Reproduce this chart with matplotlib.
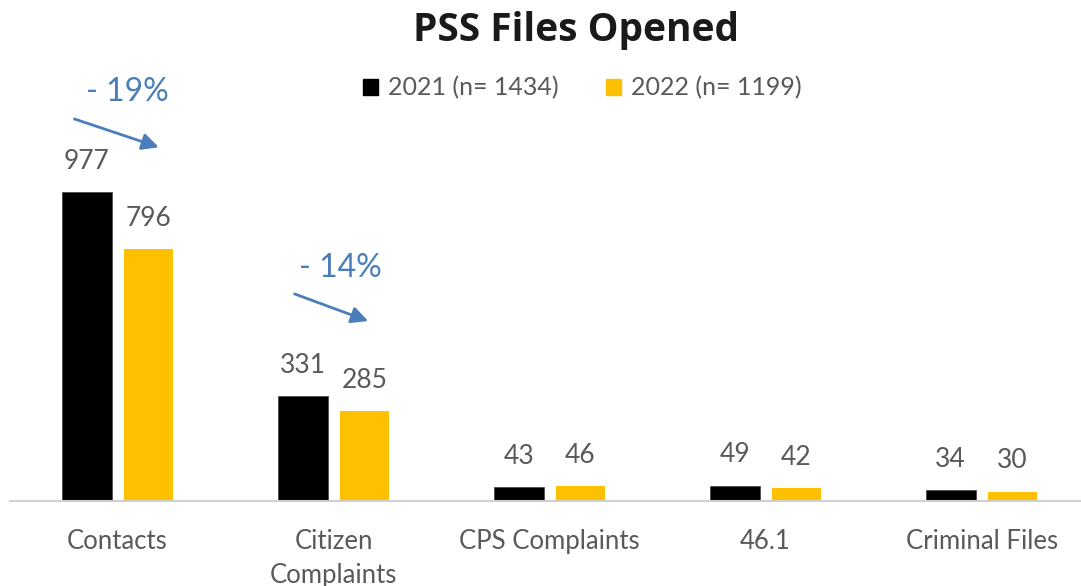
import matplotlib
matplotlib.use("Agg")
import matplotlib.pyplot as plt
import numpy as np
from matplotlib.patches import Patch

# data
categories = ["Contacts", "Citizen\nComplaints", "CPS Complaints", "46.1", "Criminal Files"]
files_2021 = [977, 331, 43, 49, 34]
files_2022 = [796, 285, 46, 42, 30]
legend_labels = ["2021 (n= 1434)", "2022 (n= 1199)"]

c2021 = "#000000"
c2022 = "#FFC000"
grey = "#595959"
blue = "#4A7EBB"

plt.rcParams['font.family'] = ['Lato', 'DejaVu Sans']

fig = plt.figure(figsize=(10.81, 5.86), dpi=100)
ax = fig.add_axes([10/1081, 85/586, 1 - 10/1081, 351/586])

x = np.arange(len(categories))
w = 0.23
off = 0.143
b1 = ax.bar(x - off, files_2021, w, color=c2021, edgecolor="#404040", linewidth=0.5)
b2 = ax.bar(x + off, files_2022, w, color=c2022)

for bars in (b1, b2):
    for r in bars:
        ax.annotate(str(int(r.get_height())), (r.get_x() + r.get_width() / 2, r.get_height()),
                    xytext=(0, 13), textcoords="offset points", ha="center", va="bottom",
                    fontsize=19, color=grey)

ax.set_xlim(-0.498, 4.46)
ax.set_ylim(0, 1110)
ax.set_xticks(x)
ax.set_xticklabels(categories, fontsize=18.5, color=grey, linespacing=1.45, va="top")
ax.tick_params(axis="x", length=0, pad=20)
ax.set_yticks([])
for s in ["top", "right", "left"]:
    ax.spines[s].set_visible(False)
ax.spines["bottom"].set_color("#D0D0D0")
ax.spines["bottom"].set_linewidth(1.5)

# change arrows
ax.annotate("", xy=(0.203, 1116), xytext=(-0.212, 1211), annotation_clip=False,
            arrowprops=dict(arrowstyle="-|>", color=blue, lw=2, mutation_scale=25))
ax.text(0.046, 1293, "- 19%", ha="center", va="center", fontsize=23, color=blue, clip_on=False)
ax.annotate("", xy=(1.172, 566), xytext=(0.807, 658), annotation_clip=False,
            arrowprops=dict(arrowstyle="-|>", color=blue, lw=2, mutation_scale=25))
ax.text(1.033, 737, "- 14%", ha="center", va="center", fontsize=23, color=blue)

handles = [Patch(color=c2021), Patch(color=c2022)]
leg = fig.legend(handles, legend_labels, loc="center", bbox_to_anchor=(582/1081, 1 - 88/586),
                 ncol=2, frameon=False, fontsize=18, handlelength=0.6, handleheight=0.6,
                 handletextpad=0.4, columnspacing=1.9)
for t in leg.get_texts():
    t.set_color(grey)

fig.text(576/1081, 1 - 30/586, "PSS Files Opened", ha="center", va="center",
         fontsize=28, fontweight="bold", color="#1A1A1A", family=["Open Sans", "DejaVu Sans"])

fig.savefig("out.png", dpi=100)
